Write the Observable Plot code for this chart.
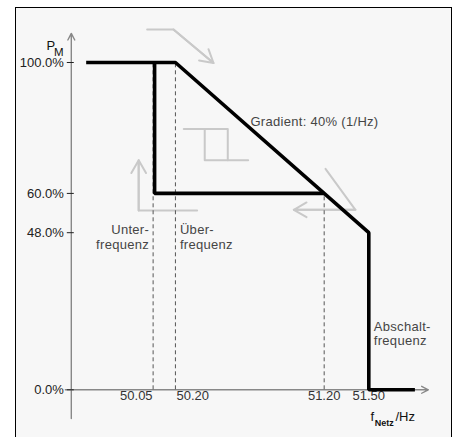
<!DOCTYPE html>
<html><head><meta charset="utf-8">
<script src="https://cdn.jsdelivr.net/npm/d3@7"></script>
<script src="https://cdn.jsdelivr.net/npm/@observablehq/plot@0.6"></script>
<style>
html,body{margin:0;padding:0;background:#fff;overflow:hidden;width:453px;height:437px}
#wrap{position:relative;width:453px;height:437px;overflow:hidden}
#frame{position:absolute;left:15px;top:6.5px;width:436.5px;height:450px;box-sizing:border-box;border:1.5px solid #000;background:#f7f7f7}
#chart{position:absolute;left:0;top:0}
</style></head><body>
<div id="wrap"><div id="frame"></div><div id="chart"></div></div>
<script>
// ---- data ----
const yTicks = [0, 48, 60, 100];
const xTicks = [50.05, 50.20, 51.20, 51.50];
// main P(f) characteristic
const curveF = [49.60, 50.20, 51.50, 51.50, 51.81];
const curveP = [100, 100, 48, 0, 0];
// under-frequency branch (hysteresis)
const underF = [50.06, 50.06, 51.20];
const underP = [100, 60, 60];
// dashed guide lines
const guideF = [50.05, 50.20, 51.20];
const guideTop = [100, 100, 60];
// light grey direction cues (last segment carries an arrow head)
const cueGroup = ["top", "top", "top", "up", "up", "up", "left", "left", "left"];
const cueF = [50.01, 50.187, 50.456, 50.346, 49.953, 49.953, 51.209, 51.41, 50.996];
const cueP = [110.1, 110.1, 99.85, 54.8, 54.8, 70.1, 67.5, 55.0, 55.0];
// hysteresis symbol
const hystGroup = ["a", "a", "a", "b", "b", "b"];
const hystF = [50.256, 50.552, 50.552, 50.397, 50.397, 50.689];
const hystP = [79.7, 79.7, 70.1, 79.7, 70.1, 70.1];
// axis extents
const xAxisF = [49.46, 51.90];
const yAxisP = [-8.8, 108.9];
// texts
const yLabel = ["P", "M"];
const xLabel = ["f", "Netz", "/Hz"];
const gradientText = "Gradient: 40% (1/Hz)";
const underText = "Unter-\nfrequenz";
const overText = "Über-\nfrequenz";
const cutoffText = "Abschalt-\nfrequenz";

// ---- build tables ----
const curve = curveF.map((f, i) => ({f, p: curveP[i]}));
const under = underF.map((f, i) => ({f, p: underP[i]}));
const guides = guideF.map((f, i) => ({f, top: guideTop[i]}));
const cues = cueF.map((f, i) => ({f, p: cueP[i], g: cueGroup[i]}));
const cueHeads = d3.groups(cues, d => d.g).map(([, pts]) => {
  const a = pts[pts.length - 2], b = pts[pts.length - 1];
  return {x1: a.f, y1: a.p, x2: b.f, y2: b.p};
});
const hyst = hystF.map((f, i) => ({f, p: hystP[i], g: hystGroup[i]}));
const xAxis = [{x1: xAxisF[0], x2: xAxisF[1], y1: 0, y2: 0}];
const yAxis = [{x1: 49.5, x2: 49.5, y1: yAxisP[0], y2: yAxisP[1]}];

const grey = "#c9c9c9";
const noteColor = "#454545";

const chart = Plot.plot({
  width: 453, height: 437,
  marginLeft: 70.8, marginRight: 25.2, marginTop: 62, marginBottom: 47.7,
  x: {domain: [49.5, 51.9], axis: null},
  y: {domain: [0, 100], axis: null},
  style: {background: "transparent", fontFamily: "'Liberation Sans', Arial, sans-serif", fontSize: "13px", overflow: "visible"},
  marks: [
    // grey cues
    Plot.line(cues, {x: "f", y: "p", z: "g", stroke: grey, strokeWidth: 2}),
    Plot.arrow(cueHeads, {x1: "x1", y1: "y1", x2: "x2", y2: "y2", stroke: grey, strokeWidth: 2, headLength: 11, headAngle: 60}),
    Plot.line(hyst, {x: "f", y: "p", z: "g", stroke: grey, strokeWidth: 2}),
    // axes
    Plot.arrow(yAxis, {x1: "x1", y1: "y1", x2: "x2", y2: "y2", stroke: "#888", strokeWidth: 1.4, headLength: 8, headAngle: 55}),
    Plot.arrow(xAxis, {x1: "x1", y1: "y1", x2: "x2", y2: "y2", stroke: "#888", strokeWidth: 1.4, headLength: 8, headAngle: 55}),
    Plot.axisY({ticks: yTicks, tickFormat: d => d.toFixed(1) + "%", tickSize: 7, tickPadding: 3.5, dx: 3, color: "#222", label: null}),
    // x tick labels
    Plot.text(xTicks.filter((d, i) => i === 0), {x: d => d, frameAnchor: "bottom", dy: 10.5, dx: -0.5, textAnchor: "end", text: d => d.toFixed(2), fill: "#333"}),
    Plot.text(xTicks.filter((d, i) => i === 1), {x: d => d, frameAnchor: "bottom", dy: 10.5, dx: 1, textAnchor: "start", text: d => d.toFixed(2), fill: "#333"}),
    Plot.text(xTicks.filter((d, i) => i > 1), {x: d => d, frameAnchor: "bottom", dy: 10.5, textAnchor: "middle", text: d => d.toFixed(2), fill: "#333"}),
    // dashed guides
    Plot.ruleX(guides, {x: "f", y1: 0, y2: "top", stroke: "#555", strokeWidth: 1, strokeDasharray: "4,3"}),
    // characteristic
    Plot.line(curve, {x: "f", y: "p", stroke: "#000", strokeWidth: 3.6, strokeLinejoin: "miter", strokeLinecap: "butt"}),
    Plot.line(under, {x: "f", y: "p", stroke: "#000", strokeWidth: 3.6, strokeLinejoin: "miter", strokeLinecap: "butt"}),
    // annotations
    Plot.text([gradientText], {x: 50.704, y: 82.0, text: d => d, textAnchor: "start", fill: noteColor}),
    Plot.text([underText], {x: 50.05, y: 51.0, dx: -4, text: d => d, textAnchor: "end", lineAnchor: "top", lineHeight: 1.16, fill: noteColor}),
    Plot.text([overText], {x: 50.20, y: 51.0, dx: 4.5, text: d => d, textAnchor: "start", lineAnchor: "top", lineHeight: 1.16, fill: noteColor}),
    Plot.text([cutoffText], {x: 51.50, y: 21.2, dx: 5, text: d => d, textAnchor: "start", lineAnchor: "top", lineHeight: 1.12, fill: noteColor}),
    // axis labels
    Plot.text([yLabel[0]], {frameAnchor: "top-left", dx: -24.8, dy: -22, text: d => d, textAnchor: "start", fill: "#111", fontSize: 13}),
    Plot.text([yLabel[1]], {frameAnchor: "top-left", dx: -17.3, dy: -14.8, text: d => d, textAnchor: "start", fill: "#111", fontSize: 11.5}),
    Plot.text([xLabel[0]], {frameAnchor: "bottom-right", dx: -57.8, dy: 31.5, text: d => d, textAnchor: "start", fill: "#111", fontSize: 13}),
    Plot.text([xLabel[1]], {frameAnchor: "bottom-right", dx: -53.5, dy: 35.8, text: d => d, textAnchor: "start", fill: "#111", fontSize: 9, fontWeight: "bold"}),
    Plot.text([xLabel[2]], {frameAnchor: "bottom-right", dx: -32.8, dy: 31.5, text: d => d, textAnchor: "start", fill: "#111", fontSize: 13})
  ]
});
chart.querySelectorAll(`g[fill="${noteColor}"] text`).forEach(t => t.setAttribute("letter-spacing", "0.3"));
document.getElementById("chart").appendChild(chart);
</script>
</body></html>
